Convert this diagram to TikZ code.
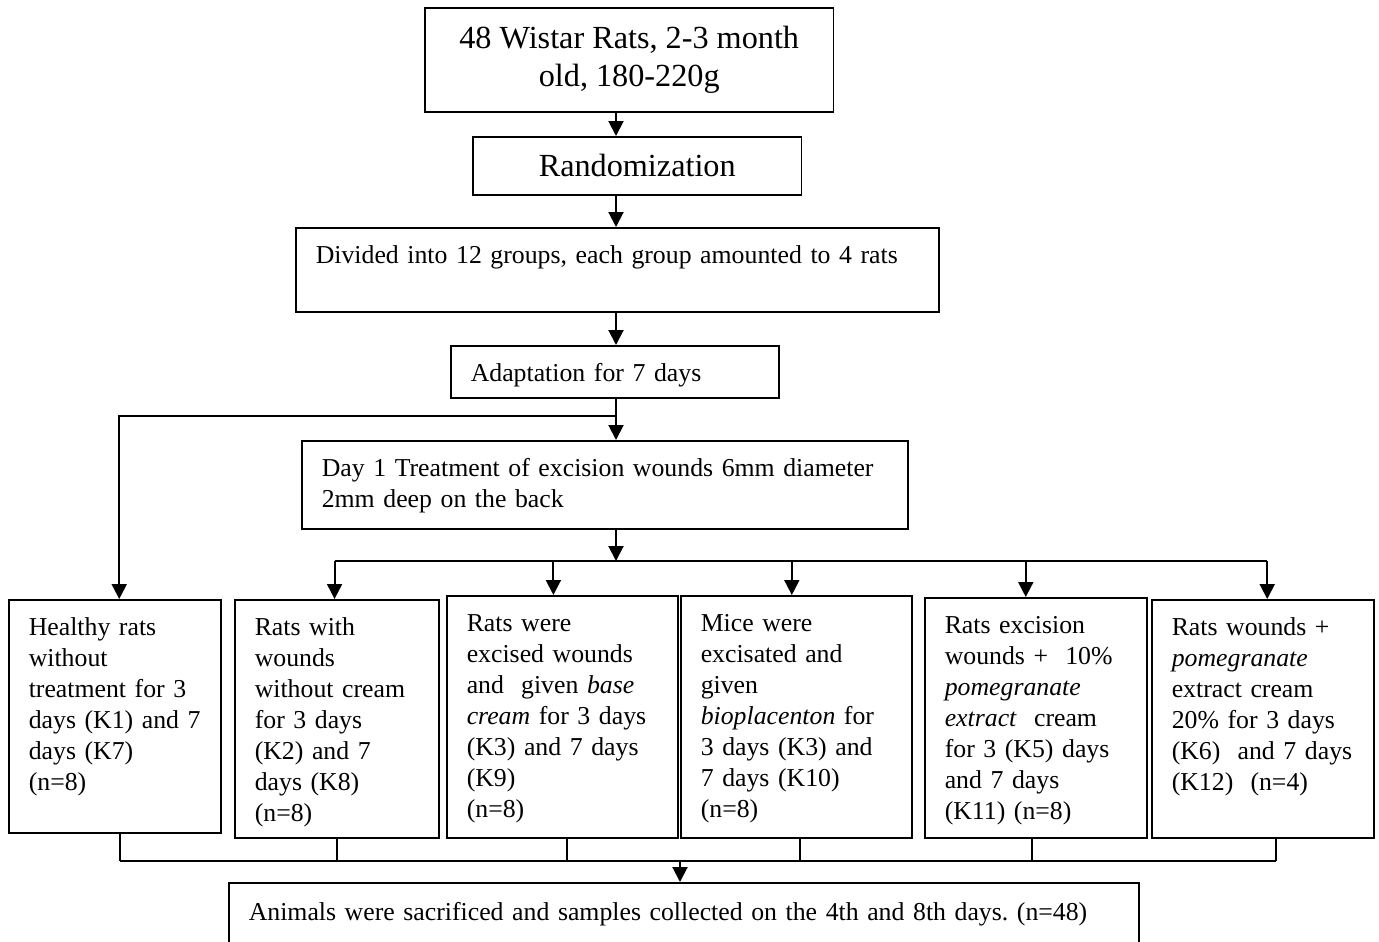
\documentclass[tikz,border=0pt]{standalone}
\usepackage{fontspec}
\setmainfont{Liberation Serif}
\frenchspacing
\usepackage{tikz}
\usetikzlibrary{arrows.meta,positioning,calc}
\definecolor{flowInk}{HTML}{000000}

\tikzset{
  box/.style={draw=flowInk,line width=0.7pt,anchor=north west},
  cell/.style={box,align=left,inner xsep=9pt,inner ysep=7.5pt,text height=8.5pt,
               font=\fontsize{11.6}{13.95}\selectfont,
               execute at begin node={\rightskip=-15pt plus 1fil\hyphenpenalty=10000\relax}},
  arr/.style={draw=flowInk,line width=0.9pt,-{Triangle[width=6.75pt,length=6.75pt]}},
  wire/.style={draw=flowInk,line width=0.9pt}
}

\begin{document}
\begin{tikzpicture}[x=0.45pt,y=-0.45pt]
  \useasboundingbox (0,0) rectangle (1379,941);
  \clip (0,0) rectangle (1379,941);
  \coordinate (spine) at (616,0);

  \node[box,minimum width=184pt,minimum height=46.8pt,align=center,
        font=\fontsize{14.5}{17}\selectfont] (rats) at (424,7)
        {48 Wistar Rats, 2-3 month\\old, 180-220g};
  \node[box,minimum width=148pt,minimum height=26.1pt,
        font=\fontsize{14.5}{17}\selectfont] (rand) at (472,136) {Randomization};
  \node[cell,text width=271.4pt,text depth=14.3pt] (divide) at (295,227)
        {Divided into 12 groups, each group amounted to 4 rats};
  \node[cell,text width=129.6pt,text depth=0pt] (adapt) at (450,345)
        {Adaptation for 7 days};
  \node[cell,text width=254.7pt,text depth=16.1pt] (day1) at (301,440)
        {Day 1 Treatment of excision wounds 6mm diameter\\2mm deep on the back};

  \node[cell,text width=77.4pt,text depth=81.35pt] (k1) at (8,599)
        {Healthy rats\\without\\treatment for 3\\days (K1) and 7\\days (K7)\\(n=8)};
  \node[cell,text width=73.8pt,text depth=83.6pt] (k2) at (234,599)
        {Rats with\\wounds\\without cream\\for 3 days\\(K2) and 7\\days (K8)\\(n=8)};
  \node[cell,text width=85.95pt,text depth=85.4pt] (k3) at (446,595)
        {Rats were\\excised wounds\\and\ \ given \textit{base}\\\textit{cream} for 3 days\\(K3) and 7 days\\(K9)\\(n=8)};
  \node[cell,text width=85.95pt,text depth=85.4pt] (k4) at (680,595)
        {Mice were\\excisated and\\given\\\textit{bioplacenton} for\\3 days (K3) and\\7 days (K10)\\(n=8)};
  \node[cell,text width=81.9pt,text depth=84.5pt] (k5) at (924,597)
        {Rats excision\\wounds +\ \ 10\%\\\textit{pomegranate}\\\textit{extract}\ \ cream\\for 3 (K5) days\\and 7 days\\(K11) (n=8)};
  \node[cell,text width=81.9pt,text depth=83.6pt] (k6) at (1151,599)
        {Rats wounds +\\\textit{pomegranate}\\extract cream\\20\% for 3 days\\(K6)\ \ and 7 days\\(K12)\ \ (n=4)};

  \node[cell,text width=391.5pt,text height=9.5pt,text depth=10pt] (final) at (228,882)
        {Animals were sacrificed and samples collected on the 4th and 8th days. (n=48)};

  \draw[arr] (rats.south -| spine) -- (rand.north -| spine);
  \draw[arr] (rand.south -| spine) -- (divide.north -| spine);
  \draw[arr] (divide.south -| spine) -- (adapt.north -| spine);
  \draw[arr] (adapt.south -| spine) -- (day1.north -| spine);

  \coordinate (fork) at (616,416);
  \draw[arr] (fork) -| ($(k1.north)+(2pt,0)$);

  \coordinate (split) at (616,561);
  \draw[arr] (day1.south -| spine) -- (split);
  \foreach \k/\dx in {k2/-1,k3/-4,k4/-2,k5/-4.5,k6/2}
    \draw[arr] ($(split -| \k.north)+(\dx pt,0)$) -- ($(\k.north)+(\dx pt,0)$);
  \draw[wire] ($(split -| k2.north)+(-1pt,0)$) -- ($(split -| k6.north)+(2pt,0)$);

  \coordinate (merge) at (680,861);
  \foreach \k/\dx in {k1/2.5,k2/0,k3/2,k4/1.5,k5/-1.5,k6/6}
    \draw[wire] ($(\k.south)+(\dx pt,0)$) -- ($(merge -| \k.south)+(\dx pt,0)$);
  \draw[wire] ($(merge -| k1.south)+(2.5pt,0)$) -- ($(merge -| k6.south)+(6pt,0)$);
  \draw[arr] (merge) -- (merge |- final.north);
\end{tikzpicture}
\end{document}
